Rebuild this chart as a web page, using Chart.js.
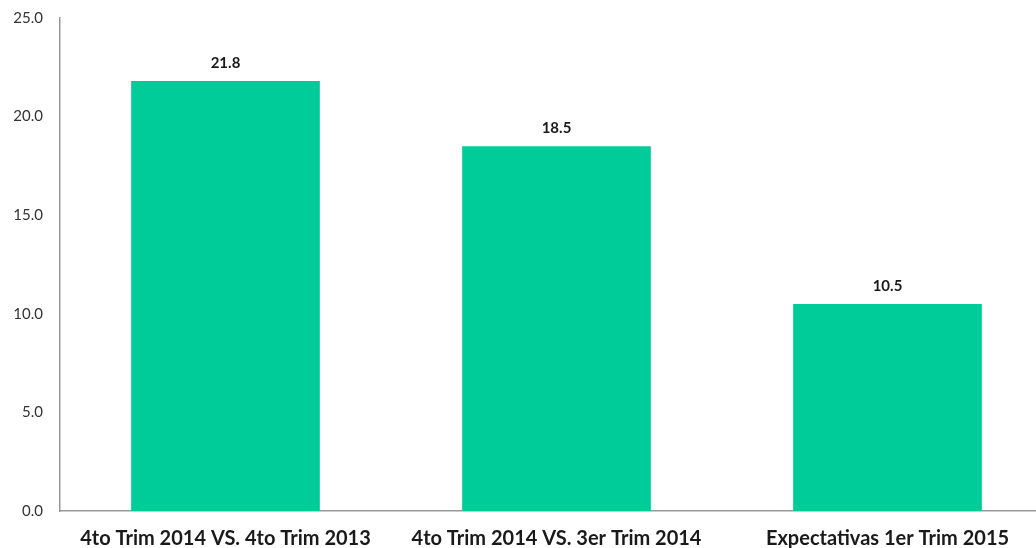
<!DOCTYPE html>
<html>
<head>
<meta charset="utf-8">
<script src="https://cdn.jsdelivr.net/npm/chart.js@4/dist/chart.umd.min.js"></script>
<style>
  html, body { margin: 0; padding: 0; background: #fff; overflow: hidden; }
  #wrap { width: 1053px; height: 548px; }
</style>
</head>
<body>
<div id="wrap"><canvas id="chart-canvas"></canvas></div>
<script>
const categories = ['4to Trim 2014 VS. 4to Trim 2013', '4to Trim 2014 VS. 3er Trim 2014', 'Expectativas 1er Trim 2015']
const values = [21.8, 18.5, 10.5]
const yTicks = [0, 5, 10, 15, 20, 25]

// Draw value labels above each bar
const valueLabels = {
  id: 'valueLabels',
  afterDatasetsDraw (chart) {
    const ctx = chart.ctx
    const meta = chart.getDatasetMeta(0)
    ctx.save()
    ctx.font = 'bold 15px Lato'
    ctx.fillStyle = '#1a1a1a'
    ctx.textAlign = 'center'
    ctx.textBaseline = 'middle'
    meta.data.forEach((bar, i) => {
      ctx.fillText(values[i].toFixed(1), bar.x, bar.y - 18)
    })
    ctx.restore()
  }
}

new Chart(document.getElementById('chart-canvas'), {
  type: 'bar',
  data: {
    labels: categories,
    datasets: [{
      data: values,
      backgroundColor: '#00CC99',
      barPercentage: 0.57,
      categoryPercentage: 1
    }]
  },
  options: {
    animation: false,
    responsive: true,
    maintainAspectRatio: false,
    layout: { padding: { top: 12, right: 0, left: 0, bottom: 0 } },
    plugins: {
      legend: { display: false },
      tooltip: { enabled: false }
    },
    scales: {
      x: {
        grid: { display: false },
        border: { display: true, color: '#999', width: 1.5 },
        afterFit: (scale) => { scale.height = 37 },
        ticks: {
          color: '#1a1a1a',
          font: { family: 'Lato', size: 20, weight: 'bold' },
          padding: 8,
          maxRotation: 0
        }
      },
      y: {
        min: 0,
        max: 25,
        grid: { display: false },
        border: { display: true, color: '#999', width: 1.5 },
        afterFit: (scale) => { scale.width = 60 },
        afterBuildTicks: (scale) => { scale.ticks = yTicks.map(v => ({ value: v })) },
        ticks: {
          color: '#333',
          font: { family: 'Lato', size: 15 },
          padding: 9,
          callback: (v) => v.toFixed(1)
        }
      }
    }
  },
  plugins: [valueLabels]
})
</script>
</body>
</html>
